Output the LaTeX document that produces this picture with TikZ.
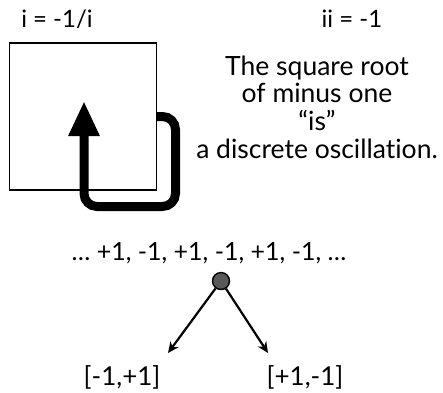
\documentclass[tikz,border=0pt]{standalone}
\usepackage{fontspec}
\setmainfont{Lato}[Ligatures=NoCommon]
\usepackage{tikz}
\usetikzlibrary{positioning, arrows.meta}

\begin{document}
\begin{tikzpicture}[x=1pt, y=-1pt,
                  txt/.style={font=\fontsize{26.5}{27.7}\selectfont, inner sep=0pt, align=center},
                  eq/.style={font=\fontsize{24}{28}\selectfont, inner sep=0pt},
                  seq/.style={font=\fontsize{25}{28}\selectfont, inner sep=0pt},
                  sqbox/.style={draw, line width=1.6pt, minimum size=147pt, inner sep=0pt, outer sep=0pt},
                  loop/.style={line width=9pt, rounded corners=13pt,
                               -{Triangle[width=29pt, length=35pt]}},
                  arr/.style={->, >={Stealth[length=11pt, width=10pt]}, line width=2.2pt},
                  dot/.style={circle, draw, line width=1.4pt, fill=black!65, minimum size=17pt, inner sep=0pt},
            ]
            \useasboundingbox (0,0) rectangle (443,392);

            % square and its loop
            \node[sqbox] (sq) at (83,116.5) {};
            \coordinate (tip) at (84,101);
            \draw[loop] (sq.east) -| ++(19,90) -| (tip);

            % equations
            \node[eq] (inv) at (57,19) {i = -1/i};
            \node[eq] (sqr) at (352,19) {ii = -1};
            \node[txt] (note) at (317,107) {The square root\\of minus one\\``is''\\a discrete oscillation.};

            % oscillation
            \node[seq] (osc) at (209,253) {\dots{} +1, -1, +1, -1, +1, -1, \dots};
            \node[dot] (pt) at (221,281) {};
            \node[seq, font=\fontsize{26}{28}\selectfont] (mp) at (122,377) {[-1,+1]};
            \node[seq, font=\fontsize{26}{28}\selectfont] (pm) at (305,377) {[+1,-1]};
            \coordinate (ltip) at (168,353);
            \coordinate (rtip) at (268,353);
            \draw[arr] (pt) -- (ltip);
            \draw[arr] (pt) -- (rtip);
      \end{tikzpicture}
\end{document}
